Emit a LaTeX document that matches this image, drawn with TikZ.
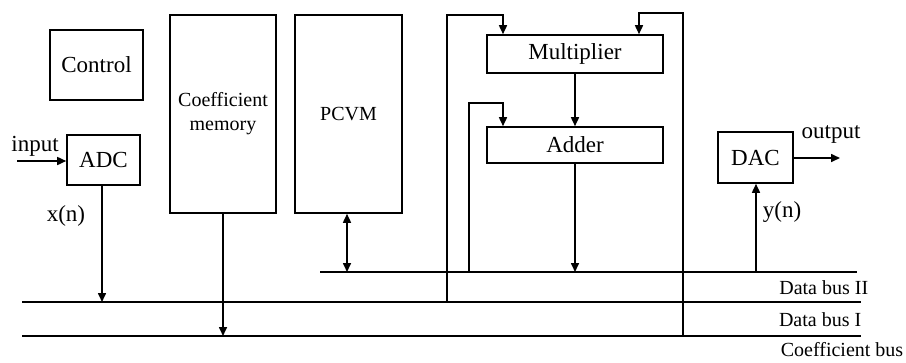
\documentclass[tikz,border=0pt]{standalone}
\usepackage{fontspec}
\setmainfont{Liberation Serif}
\usetikzlibrary{arrows.meta}
\begin{document}
\begin{tikzpicture}[x=1pt,y=-1pt,
  line width=1.6pt,
  >={Triangle[length=9pt,width=8pt]},
  blockbox/.style={draw,rectangle,inner sep=0pt,anchor=center,
    font=\fontsize{23}{26}\selectfont},
  tallbox/.style={draw,rectangle,inner sep=0pt,anchor=center,align=center,
    font=\fontsize{20}{24}\selectfont},
  lbl/.style={inner sep=0pt,font=\fontsize{23}{26}\selectfont},
  buslbl/.style={inner sep=0pt,anchor=east,font=\fontsize{20}{24}\selectfont}]
\useasboundingbox (0,0) rectangle (906,362);

% functional blocks
\node[blockbox,minimum width=93pt,minimum height=70pt] (ctrl) at (96.5,65) {Control};
\node[blockbox,minimum width=73pt,minimum height=50pt] (adc) at (103.5,160) {ADC};
\node[tallbox,minimum width=106pt,minimum height=198pt] (cmem) at (223,114) {Coefficient\\memory};
\node[tallbox,minimum width=107pt,minimum height=198pt] (pcvm) at (348.5,114) {PCVM};
\node[blockbox,minimum width=176pt,minimum height=38pt] (mul) at (575,54) {Multiplier};
\node[blockbox,minimum width=176pt,minimum height=36pt] (add) at (575,145) {Adder};
\node[blockbox,minimum width=75pt,minimum height=51pt] (dac) at (755.5,157.5) {DAC};

% buses
\coordinate (b2l) at (320,272);  \coordinate (b2r) at (857,272);
\coordinate (b1l) at (22,302);   \coordinate (b1r) at (861,302);
\coordinate (cbl) at (22,336);   \coordinate (cbr) at (861,336);
\draw (b2l) -- (b2r);
\draw (b1l) -- (b1r);
\draw (cbl) -- (cbr);
\node[buslbl] (lb2) at (869,288) {Data bus II};
\node[buslbl] (lb1) at (862,320) {Data bus I};
\node[buslbl] (lcb) at (904,350) {Coefficient bus};

% input / output
\coordinate (inp) at (17,161);
\draw[->] (inp) -- (adc.west |- inp);
\node[lbl] (linp) at (35,146) {input};
\coordinate (outp) at (840,158);
\draw[->] (dac.east |- outp) -- (outp);
\node[lbl] (lout) at (831,134) {output};

% converters to/from buses
\coordinate (xb) at (102,302);
\draw[->] (adc.south -| xb) -- (xb);
\node[lbl] (lx) at (66,216) {x(n)};
\coordinate (yb) at (756,272);
\draw[->] (yb) -- (dac.south -| yb);
\node[lbl] (ly) at (782,212) {y(n)};

% memories to buses
\coordinate (cb) at (223,336);
\draw[->] (cmem.south -| cb) -- (cb);
\coordinate (pb) at (347,272);
\draw[<->] (pcvm.south -| pb) -- (pb);

% arithmetic unit
\draw[->] (mul.south) -- (add.north);
\coordinate (ab) at (575,272);
\draw[->] (add.south -| ab) -- (ab);

% operand feeds
\coordinate (f1a) at (447,302);
\coordinate (f1b) at (447,15);
\coordinate (f1c) at (503,15);
\draw[->] (f1a) -- (f1b) -- (f1c) -- (mul.north -| f1c);
\coordinate (f2a) at (469,272);
\coordinate (f2b) at (469,103);
\coordinate (f2c) at (503,103);
\draw[->] (f2a) -- (f2b) -- (f2c) -- (add.north -| f2c);
\coordinate (f3a) at (683,336);
\coordinate (f3b) at (683,13);
\coordinate (f3c) at (639,13);
\draw[->] (f3a) -- (f3b) -- (f3c) -- (mul.north -| f3c);
\end{tikzpicture}
\end{document}
